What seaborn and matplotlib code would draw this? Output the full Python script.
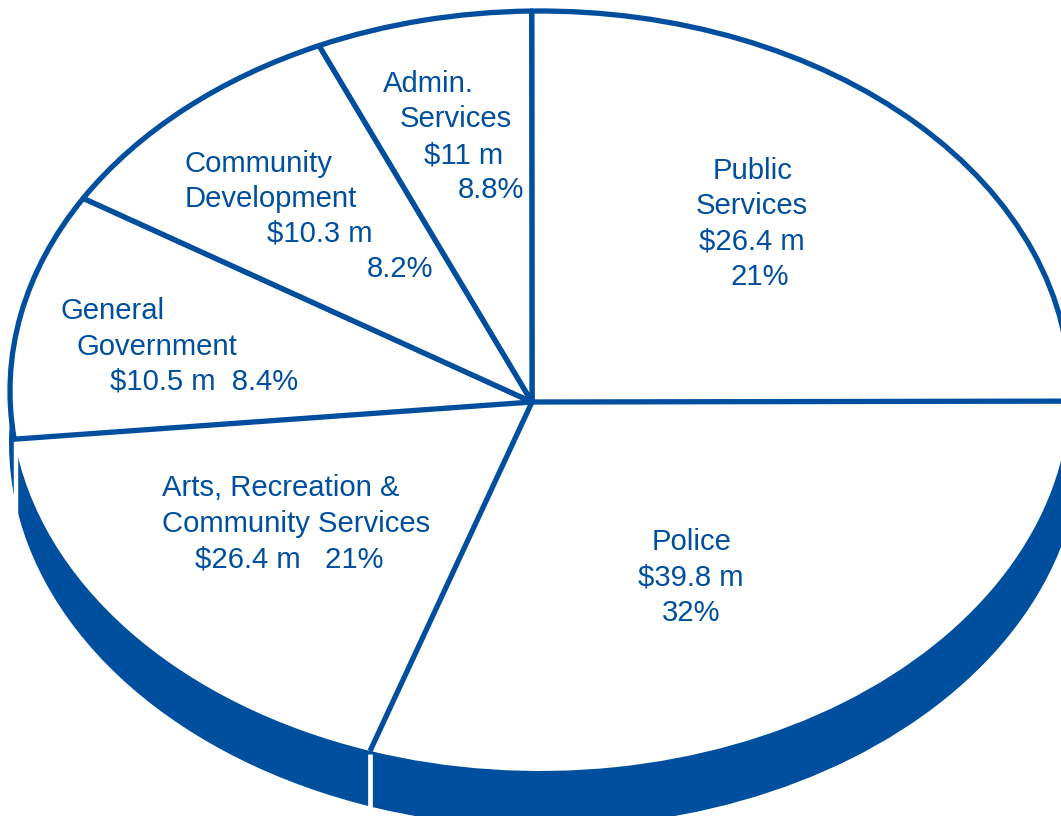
import numpy as np
import matplotlib
matplotlib.use('Agg')
import matplotlib.pyplot as plt
from matplotlib.patches import PathPatch
from matplotlib.path import Path
import seaborn as sns

# slices clockwise from the top, sizes as drawn in the picture (it is not to scale)
names = ['Public Services', 'Police', 'Arts, Recreation & Community Services',
         'General Government', 'Community Development', 'Admin. Services']
drawn_share = [25.7, 29.8, 17.8, 10.5, 9.7, 6.6]
amounts = ['$26.4 m', '$39.8 m', '$26.4 m', '$10.5 m', '$10.3 m', '$11 m']
percents = ['21%', '32%', '21%', '8.4%', '8.2%', '8.8%']

label_lines = [
    ['Public', 'Services', amounts[0], percents[0]],
    ['Police', amounts[1], percents[1]],
    ['Arts, Recreation &', 'Community Services', amounts[2] + '   ' + percents[2]],
    ['General', 'Government', amounts[3] + '  ' + percents[3]],
    ['Community', 'Development', amounts[4], percents[4]],
    ['Admin.', 'Services', amounts[5], percents[5]],
]
# left edge and baseline of each label line, in pixels
label_xy = [
    [(713, 179), (696, 214), (699, 250), (730, 285)],
    [(652, 550), (638, 586), (662, 621)],
    [(162, 496), (162, 532), (195, 567)],
    [(60, 319), (77, 355), (110, 390)],
    [(185, 172), (185, 207), (267, 242), (367, 277)],
    [(383, 92), (400, 127), (424, 163), (458, 198)],
]

W, H = 1061, 816
cx, cy, a, b = 540, 391, 530, 380   # ellipse of the top face, pixels
hub_px = (532, 402)
side_px = (545, 443)                # centre of the lower rim of the side
blue = '#004F9F'
lw = 3.8


def px(x, y):
    return (x - cx) / a, (cy - y) / b


sns.set_theme(style='white')
plt.rcParams['font.family'] = ['Liberation Sans', 'DejaVu Sans']

fig = plt.figure(figsize=(W / 100, H / 100), dpi=100)
ax = fig.add_axes([0, 0, 1, 1])

# side of the disc
ax.pie(drawn_share, startangle=90.9, counterclock=False, colors=[blue] * 6,
       center=px(*side_px), radius=1.01, wedgeprops={'linewidth': 1, 'edgecolor': blue})

# top face, all slices meet at the off-centre hub
wedges, _ = ax.pie(drawn_share, startangle=90.9, counterclock=False, colors=['white'] * 6,
                   wedgeprops={'linewidth': 0})
hub = np.array(px(*hub_px))
for i, w in enumerate(wedges):
    path = w.get_path()
    verts = path.vertices.copy()
    verts[np.hypot(verts[:, 0], verts[:, 1]) < 1e-6] = hub
    w.set_visible(False)
    front_slice = i in (1, 2)   # no rim along the front
    ax.add_patch(PathPatch(Path(verts, path.codes), facecolor='white',
                           edgecolor='none' if front_slice else blue,
                           linewidth=lw, joinstyle='round', zorder=3 if front_slice else 4))

# spoke between Police and Arts, plus the white cuts in the side
front = np.deg2rad(wedges[1].theta1)
left = np.deg2rad(wedges[2].theta1)
fx, fy = np.cos(front), np.sin(front)
lx, ly = np.cos(left), np.sin(left)
ax.plot([hub[0], fx], [hub[1], fy], color=blue, lw=lw, solid_capstyle='butt', zorder=5)
ax.plot([fx, fx], [fy - 3 / b, fy - 70 / b], color='white', lw=3.4,
        solid_capstyle='butt', zorder=3)
ax.plot([lx + 2 / a, lx + 2 / a], [ly, ly - 84 / b], color='white', lw=3.2,
        solid_capstyle='butt', zorder=2.5)

for lines, spots in zip(label_lines, label_xy):
    for line, (x, y) in zip(lines, spots):
        tx, ty = px(x, y)
        ax.text(tx, ty, line, color=blue, fontsize=21.05, ha='left', va='baseline', zorder=6)

ax.set_aspect('auto')
ax.set_xlim(px(0, 0)[0], px(W, 0)[0])
ax.set_ylim(px(0, H)[1], px(0, 0)[1])
ax.axis('off')

fig.savefig('out.png', dpi=100, facecolor='white')
